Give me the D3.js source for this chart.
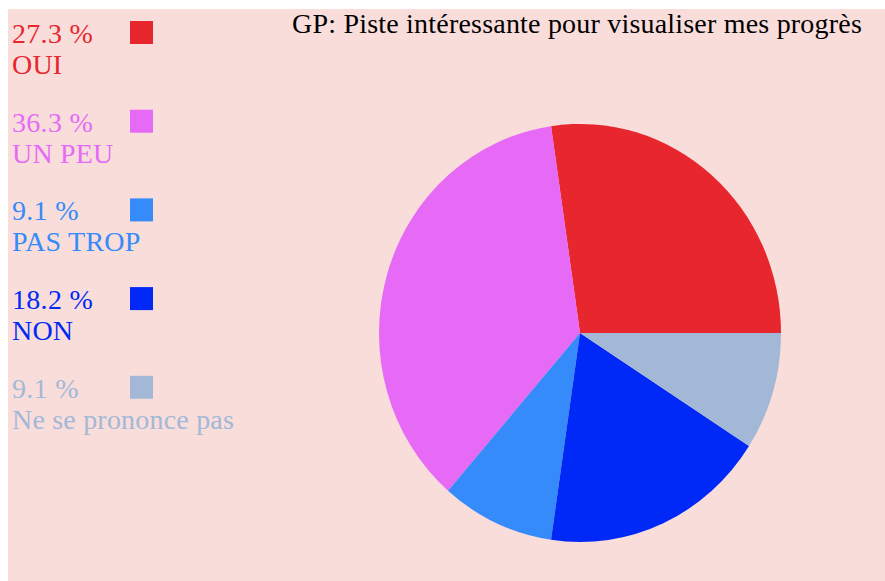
<!DOCTYPE html>
<html>
<head>
<meta charset="utf-8">
<script src="https://d3js.org/d3.v7.min.js"></script>
<style>
  body { margin: 0; background: #ffffff; }
  text { font-family: "Liberation Serif", "DejaVu Serif", serif; }
</style>
</head>
<body>
<div id="pie"></div>
<script>

  // survey answers, percentages as printed in the legend
  var answers = ["OUI", "UN PEU", "PAS TROP", "NON", "Ne se prononce pas"]
  var percents = [27.3, 36.3, 9.1, 18.2, 9.1]
  var percentLabels = ["27.3 %", "36.3 %", "9.1 %", "18.2 %", "9.1 %"]
  var colors = ["#e8262e", "#e66af6", "#358bf9", "#0029f8", "#a3b8d6"]

  var title = "GP: Piste intéressante pour visualiser mes progrès"

  // define dimensions
  var width = 885,
      height = 581;

  var radius = 201;

  var svg = d3.select("#pie")
    .append("svg")
    .attr("width", width)
    .attr("height", height);

  // pink panel behind everything
  svg.append("rect")
    .attr("x", 8)
    .attr("y", 9)
    .attr("width", width - 8)
    .attr("height", height - 9)
    .style("fill", "#f9dddb");

  // title top right
  svg.append("text")
    .attr("x", 862)
    .attr("y", 33)
    .style("text-anchor", "end")
    .style("font-size", "28px")
    .style("letter-spacing", "0.2px")
    .style("fill", "#000")
    .text(title);

  var color = d3.scaleOrdinal()
    .domain(answers)
    .range(colors);

  // slices run counter clockwise, starting at 3 o'clock
  var pie = d3.pie()
    .sort(null)
    .value(function(d) { return d.value; })
    .startAngle(Math.PI / 2)
    .endAngle(Math.PI / 2 - 2 * Math.PI);

  var arc = d3.arc()
    .innerRadius(0)
    .outerRadius(radius);

  var table = answers.map(function(a, i) {
    return {key: a, value: percents[i], label: percentLabels[i]};
  });

  // pie is a little taller than wide in the picture
  var plot = svg.append("g")
    .attr("transform", "translate(580,333) scale(1,1.04)");

  plot.selectAll("path")
    .data(pie(table))
  .enter().append("path")
    .attr("d", arc)
    .style("fill", function(d) { return color(d.data.key); });

  // legend on the left
  var legend = svg.selectAll(".legend")
    .data(table)
  .enter().append("g")
    .attr("class", "legend")
    .attr("transform", function(d, i) { return "translate(0," + (43 + i * 88.7) + ")"; });

  legend.append("text")
    .attr("x", 12)
    .attr("y", 0)
    .style("font-size", "28px")
    .style("letter-spacing", "0.3px")
    .style("fill", function(d) { return color(d.key); })
    .text(function(d) { return d.label; });

  legend.append("text")
    .attr("x", 12)
    .attr("y", 31)
    .style("font-size", "28px")
    .style("letter-spacing", "0.2px")
    .style("fill", function(d) { return color(d.key); })
    .text(function(d) { return d.key; });

  legend.append("rect")
    .attr("x", 130)
    .attr("y", -22)
    .attr("width", 23)
    .attr("height", 23)
    .style("fill", function(d) { return color(d.key); });

</script>
</body>
</html>
